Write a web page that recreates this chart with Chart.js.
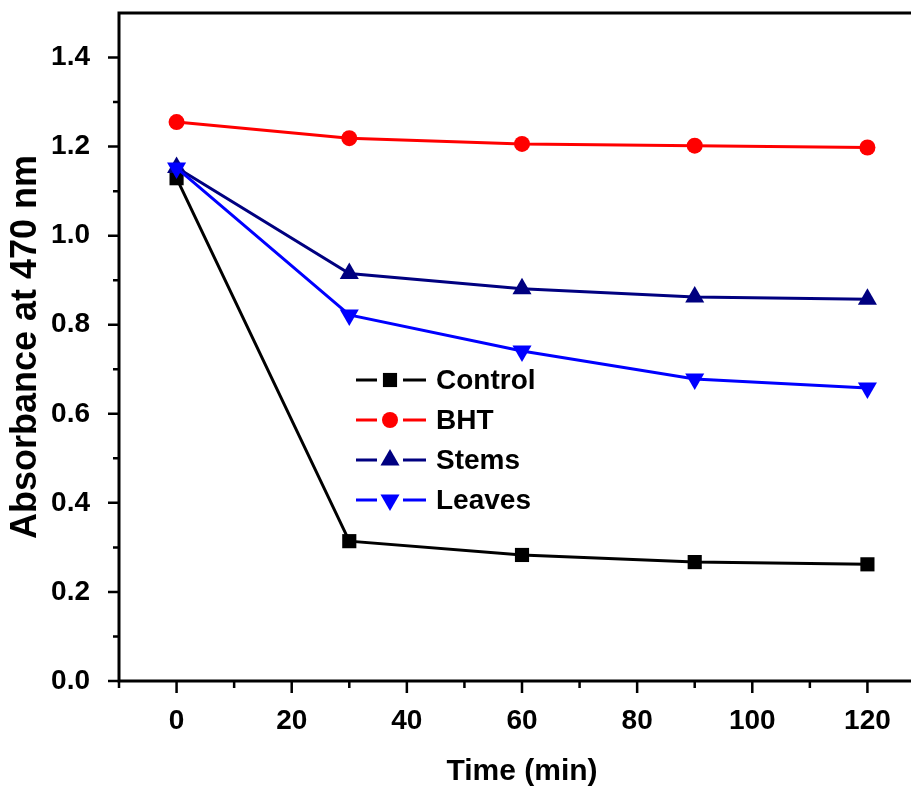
<!DOCTYPE html>
<html lang="en">
<head>
    <meta charset="UTF-8">
    <title>Absorbance at 470 nm</title>
    <style>
        html, body { margin: 0; padding: 0; background: #fff; overflow: hidden; }
        #wrap { width: 911px; height: 790px; overflow: hidden; }
    </style>
</head>
<body>
    <div id="wrap">
        <!-- canvas is a bit wider than the window: the right axis falls outside the crop -->
        <canvas id="myChart" width="936" height="790"></canvas>
    </div>

    <script src="https://cdn.jsdelivr.net/npm/chart.js"></script>
    <script>
        // values
        const timeMin = [0, 30, 60, 90, 120];
        const control = [1.129, 0.314, 0.283, 0.267, 0.262];
        const bht = [1.255, 1.219, 1.206, 1.202, 1.198];
        const stems = [1.153, 0.915, 0.881, 0.862, 0.857];
        const leaves = [1.152, 0.822, 0.741, 0.678, 0.658];

        const xMajor = [0, 20, 40, 60, 80, 100, 120];
        const xMinor = [-10, 10, 30, 50, 70, 90, 110];
        const yMajor = [0, 0.2, 0.4, 0.6, 0.8, 1.0, 1.2, 1.4];
        const yMinor = [0.1, 0.3, 0.5, 0.7, 0.9, 1.1, 1.3];

        const FONT = '"Liberation Sans", Arial, sans-serif';

        const series = [
            { label: 'Control', data: control, color: '#000000', style: 'rect', radius: 10, rotation: 0, order: 3 },
            { label: 'BHT', data: bht, color: '#ff0000', style: 'circle', radius: 8, rotation: 0, order: 4 },
            { label: 'Stems', data: stems, color: '#000080', style: 'triangle', radius: 11, rotation: 0, order: 2 },
            { label: 'Leaves', data: leaves, color: '#0000ff', style: 'triangle', radius: 11, rotation: 180, order: 1 }
        ];

        function points(values) {
            return timeMin.map((t, i) => ({ x: t, y: values[i] }));
        }

        // axis frame, tick marks and the in-plot legend
        const framePlugin = {
            id: 'frame',
            afterDraw(chart) {
                const ctx = chart.ctx;
                const a = chart.chartArea;
                const xs = chart.scales.x;
                const ys = chart.scales.y;
                ctx.save();
                ctx.strokeStyle = '#000';
                ctx.lineWidth = 3;
                ctx.lineCap = 'butt';
                ctx.beginPath();
                ctx.moveTo(a.left, a.top);
                ctx.lineTo(a.left, a.bottom + 1.5);
                ctx.moveTo(a.left - 1.5, a.bottom);
                ctx.lineTo(a.right, a.bottom);
                ctx.moveTo(a.left - 1.5, a.top);
                ctx.lineTo(a.right, a.top);
                ctx.moveTo(a.right, a.top);
                ctx.lineTo(a.right, a.bottom);
                ctx.stroke();

                ctx.lineWidth = 2.5;
                ctx.beginPath();
                xMajor.forEach(v => {
                    const px = xs.getPixelForValue(v);
                    ctx.moveTo(px, a.bottom);
                    ctx.lineTo(px, a.bottom + 12);
                });
                xMinor.forEach(v => {
                    const px = xs.getPixelForValue(v);
                    ctx.moveTo(px, a.bottom);
                    ctx.lineTo(px, a.bottom + 7);
                });
                yMajor.forEach(v => {
                    const py = ys.getPixelForValue(v);
                    ctx.moveTo(a.left, py);
                    ctx.lineTo(a.left - 11, py);
                });
                yMinor.forEach(v => {
                    const py = ys.getPixelForValue(v);
                    ctx.moveTo(a.left, py);
                    ctx.lineTo(a.left - 6, py);
                });
                ctx.stroke();

                // legend
                const lx = 356, ly = 380, step = 40;
                series.forEach((s, i) => {
                    const y = ly + i * step;
                    ctx.strokeStyle = s.color;
                    ctx.fillStyle = s.color;
                    ctx.lineWidth = 3;
                    ctx.beginPath();
                    ctx.moveTo(lx, y);
                    ctx.lineTo(lx + 21, y);
                    ctx.moveTo(lx + 47, y);
                    ctx.lineTo(lx + 70, y);
                    ctx.stroke();
                    Chart.helpers.drawPoint(ctx, {
                        pointStyle: s.style,
                        radius: s.radius,
                        rotation: s.rotation,
                        borderWidth: 0
                    }, lx + 34, y);
                    ctx.fillStyle = '#000';
                    ctx.font = 'bold 28px ' + FONT;
                    ctx.textBaseline = 'middle';
                    ctx.textAlign = 'left';
                    ctx.fillText(s.label, lx + 80, y + 1);
                });
                ctx.restore();
            }
        };

        const ctx = document.getElementById('myChart').getContext('2d');
        const chart = new Chart(ctx, {
            type: 'line',
            data: {
                datasets: series.map(s => ({
                    label: s.label,
                    data: points(s.data),
                    borderColor: s.color,
                    backgroundColor: s.color,
                    borderWidth: 3,
                    pointStyle: s.style,
                    pointRadius: s.radius,
                    pointRotation: s.rotation,
                    pointBorderWidth: 0,
                    pointBackgroundColor: s.color,
                    tension: 0,
                    fill: false,
                    order: s.order
                }))
            },
            options: {
                responsive: false,
                animation: false,
                layout: { padding: { top: 13, right: 0, bottom: 0, left: 4 } },
                plugins: {
                    legend: { display: false },
                    tooltip: { enabled: false }
                },
                scales: {
                    x: {
                        type: 'linear',
                        min: -10,
                        max: 130,
                        grid: { display: false },
                        border: { display: false },
                        afterBuildTicks: scale => { scale.ticks = xMajor.map(v => ({ value: v })); },
                        afterFit: scale => {
                            scale.height = 109;
                            scale.paddingLeft = 0;
                            scale.paddingRight = 0;
                        },
                        ticks: {
                            padding: 15,
                            color: '#000',
                            font: { family: FONT, size: 28, weight: 'bold' },
                            callback: v => String(v)
                        },
                        title: {
                            display: true,
                            text: 'Time (min)',
                            color: '#000',
                            font: { family: FONT, size: 30, weight: 'bold' },
                            padding: { top: 14, bottom: 0 }
                        }
                    },
                    y: {
                        min: 0,
                        max: 1.5,
                        grid: { display: false },
                        border: { display: false },
                        afterBuildTicks: scale => { scale.ticks = yMajor.map(v => ({ value: v })); },
                        afterFit: scale => {
                            scale.width = 115;
                            scale.paddingTop = 0;
                            scale.paddingBottom = 0;
                        },
                        ticks: {
                            padding: 21,
                            color: '#000',
                            font: { family: FONT, size: 28, weight: 'bold' },
                            callback: v => v.toFixed(1)
                        },
                        title: {
                            display: true,
                            text: 'Absorbance at 470 nm',
                            color: '#000',
                            font: { family: FONT, size: 36, weight: 'bold' },
                            padding: { top: 0, bottom: 12 }
                        }
                    }
                }
            },
            plugins: [framePlugin]
        });
    </script>
</body>
</html>
